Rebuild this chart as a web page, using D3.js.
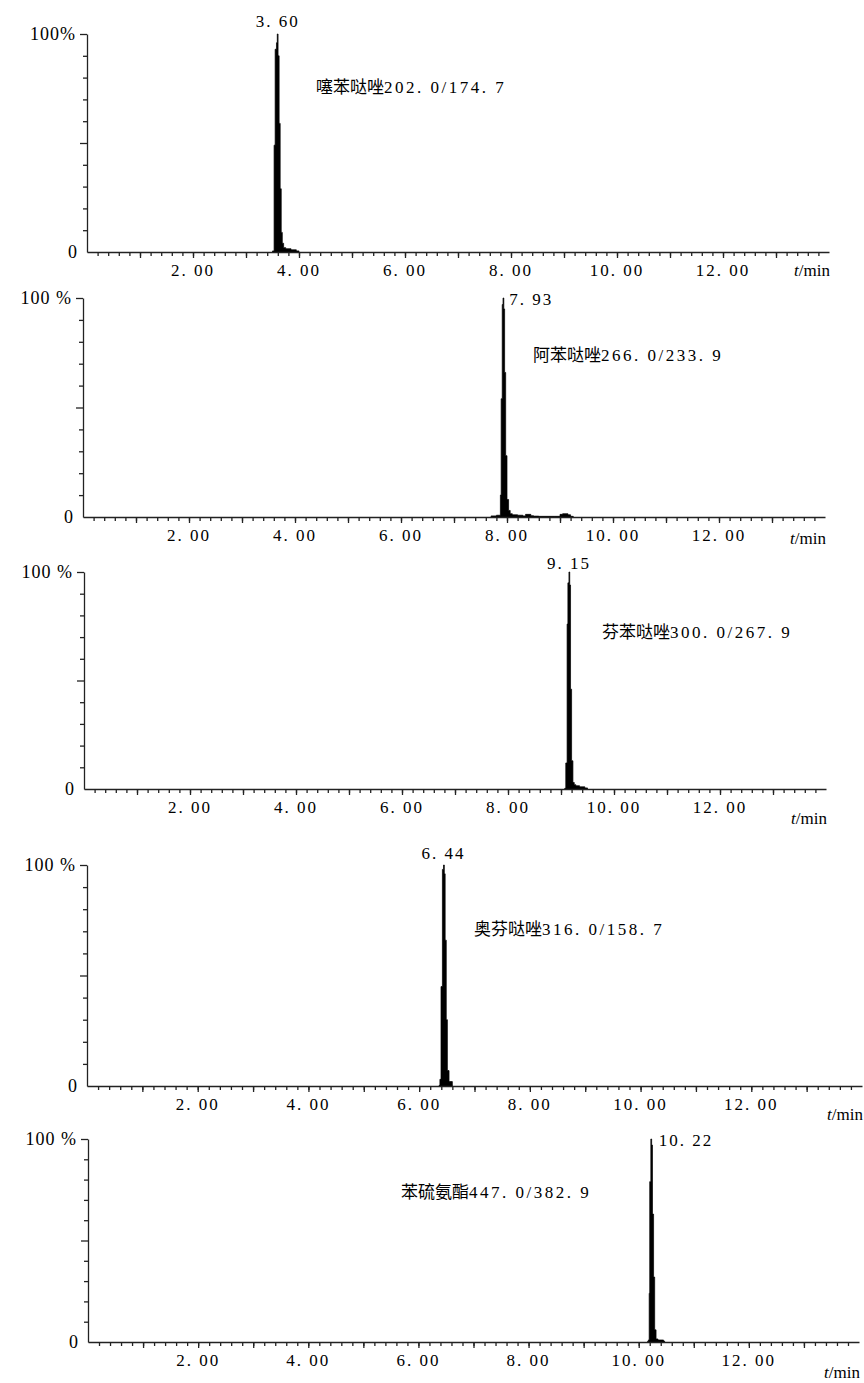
<!DOCTYPE html>
<html>
<head>
<meta charset="utf-8">
<script src="https://cdn.jsdelivr.net/npm/d3@7"></script>
<style>
  body { margin: 0; background: #fff; }
  svg { display: block; }
  .num { font-family: "Liberation Serif", "Times New Roman", "DejaVu Serif", serif; font-size: 17px; fill: #000; letter-spacing: 2px; }
  .cjk { font-family: "Noto Sans CJK SC", sans-serif; font-size: 17px; fill: #000; letter-spacing: 0; }
  .unit { font-family: "Liberation Serif", "Times New Roman", serif; font-size: 17px; fill: #000; }
  .ylab { font-family: "Liberation Serif", "Times New Roman", serif; font-size: 18px; fill: #000; letter-spacing: 1px; }
  .axis path, .axis line { stroke: #222; stroke-width: 1.3; }
</style>
</head>
<body>
<svg id="chart" width="864" height="1383"></svg>
<script>
//Chart data (time in min, intensity in %)
var compounds = ["噻苯哒唑", "阿苯哒唑", "芬苯哒唑", "奥芬哒唑", "苯硫氨酯"];
var transitions = ["202.0/174.7", "266.0/233.9", "300.0/267.9", "316.0/158.7", "447.0/382.9"];
var peakTimes = [3.60, 7.93, 9.15, 6.44, 10.22];
var yLabelTop = ["100%", "100 %", "100 %", "100 %", "100 %"];
var xTickLabels = [2, 4, 6, 8, 10, 12];

var time1 = [3.50, 3.53, 3.55, 3.575, 3.59, 3.605, 3.625, 3.645, 3.665, 3.685, 3.71, 3.75, 3.85, 3.95, 4.00];
var int1  = [0.5, 49, 93, 96, 100, 90, 59, 29, 9, 4, 2, 1.5, 1, 0.5, 0];

var time2 = [7.70, 7.80, 7.875, 7.89, 7.91, 7.925, 7.94, 7.955, 7.975, 8.00, 8.03, 8.06, 8.10, 8.20, 8.30, 8.35, 8.45, 8.50, 8.60, 8.90, 9.00, 9.05, 9.15, 9.20, 9.25];
var int2  = [0.5, 0.8, 10, 54, 97, 100, 95, 66, 28, 8, 3, 1.5, 1, 0.8, 0.5, 1.2, 0.6, 0.4, 0.3, 0.3, 1.2, 1.5, 1.0, 0.3, 0];

var time3 = [9.07, 9.09, 9.115, 9.13, 9.15, 9.165, 9.18, 9.20, 9.225, 9.25, 9.28, 9.35, 9.45, 9.50];
var int3  = [0.3, 12, 76, 95, 100, 94, 46, 13, 3, 2, 1.5, 1, 0.5, 0];

var time4 = [6.36, 6.375, 6.395, 6.42, 6.44, 6.455, 6.47, 6.49, 6.51, 6.54, 6.60];
var int4  = [0.3, 3, 45, 98, 100, 96, 66, 30, 7, 2, 0];

var time5 = [10.16, 10.175, 10.19, 10.20, 10.22, 10.235, 10.25, 10.27, 10.29, 10.315, 10.35, 10.45, 10.47];
var int5  = [0.3, 1, 24, 79, 100, 97, 63, 32, 6, 1.5, 1, 0.5, 0];

var times = [time1, time2, time3, time4, time5];
var ints = [int1, int2, int3, int4, int5];

//Panel frames (pixels) and where each text sits
var frames = [
  {x0: 87, x1: 829, top: 34,   bot: 252,  peakAnchor: "middle", peakDx: 0, peakDy: -7, nameX: 316, nameY: 93,   unitDy: 24},
  {x0: 83, x1: 825, top: 298,  bot: 517,  peakAnchor: "start",  peakDx: 6, peakDy: 7,  nameX: 533, nameY: 361,  unitDy: 27},
  {x0: 84, x1: 826, top: 572,  bot: 789,  peakAnchor: "middle", peakDx: 0, peakDy: -3, nameX: 602, nameY: 638,  unitDy: 35},
  {x0: 87, x1: 862, top: 865,  bot: 1086, peakAnchor: "middle", peakDx: 0, peakDy: -6, nameX: 474, nameY: 935,  unitDy: 34},
  {x0: 88, x1: 859, top: 1139, bot: 1342, peakAnchor: "start",  peakDx: 8, peakDy: 7,  nameX: 401, nameY: 1198, unitDy: 36}
];

var svg = d3.select("#chart");

frames.forEach(function(f, i) {
  var x = d3.scaleLinear().domain([0, 14]).range([f.x0, f.x1]);
  var y = d3.scaleLinear().domain([0, 100]).range([f.bot, f.top]);
  var g = svg.append("g");

  //Peak drawn as a filled step trace
  var pts = times[i].map(function(t, j) { return [t, ints[i][j]]; });
  var area = d3.area()
      .x(function(d) { return x(d[0]); })
      .y0(y(0))
      .y1(function(d) { return y(d[1]); })
      .curve(d3.curveStepAfter);
  g.append("path").datum(pts)
      .attr("d", area)
      .attr("fill", "#000")
      .attr("stroke", "#000")
      .attr("stroke-width", 0.7);

  //x axis: minor ticks every 0.2 min, major every minute
  g.append("g").attr("class", "axis")
      .attr("transform", "translate(0," + f.bot + ")")
      .call(d3.axisBottom(x).tickValues(d3.range(0.2, 13.9, 0.2)).tickSize(4).tickSizeOuter(0).tickFormat(""));
  g.append("g").attr("class", "axis")
      .attr("transform", "translate(0," + f.bot + ")")
      .call(d3.axisBottom(x).tickValues(d3.range(1, 14, 1)).tickSize(6).tickSizeOuter(0).tickFormat(""))
      .select(".domain").remove();

  g.selectAll("text.xt").data(xTickLabels).enter().append("text")
      .attr("class", "num")
      .attr("x", function(d) { return x(d); })
      .attr("y", f.bot + 24)
      .attr("text-anchor", "middle")
      .text(function(d) { return d3.format(".2f")(d).replace(".", ". "); });

  //y axis
  g.append("g").attr("class", "axis")
      .attr("transform", "translate(" + f.x0 + ",0)")
      .call(d3.axisLeft(y).tickValues(d3.range(10, 100, 10).filter(function(v) { return v != 50; })).tickSize(4).tickSizeOuter(0).tickFormat(""));
  g.append("g").attr("class", "axis")
      .attr("transform", "translate(" + f.x0 + ",0)")
      .call(d3.axisLeft(y).tickValues([50, 100]).tickSize(7).tickSizeOuter(0).tickFormat(""))
      .select(".domain").remove();

  g.append("text").attr("class", "ylab")
      .attr("x", f.x0 - 11).attr("y", y(100) + 6)
      .attr("text-anchor", "end")
      .text(yLabelTop[i]);
  g.append("text").attr("class", "ylab")
      .attr("x", f.x0 - 9).attr("y", y(0) + 6)
      .attr("text-anchor", "end")
      .text("0");

  //t/min
  var u = g.append("text").attr("class", "unit")
      .attr("x", f.x1 + 1).attr("y", f.bot + f.unitDy)
      .attr("text-anchor", "end");
  u.append("tspan").style("font-style", "italic").text("t");
  u.append("tspan").text("/min");

  //peak retention time
  g.append("text").attr("class", "num")
      .attr("x", x(peakTimes[i]) + f.peakDx)
      .attr("y", y(100) + f.peakDy)
      .attr("text-anchor", f.peakAnchor)
      .text(d3.format(".2f")(peakTimes[i]).replace(".", ". "));

  //compound and transition
  var lab = g.append("text").attr("x", f.nameX).attr("y", f.nameY);
  lab.append("tspan").attr("class", "cjk").text(compounds[i]);
  lab.append("tspan").attr("class", "num").style("letter-spacing", "2.5px").text(transitions[i].replace(/\./g, ". "));
});
</script>
</body>
</html>
